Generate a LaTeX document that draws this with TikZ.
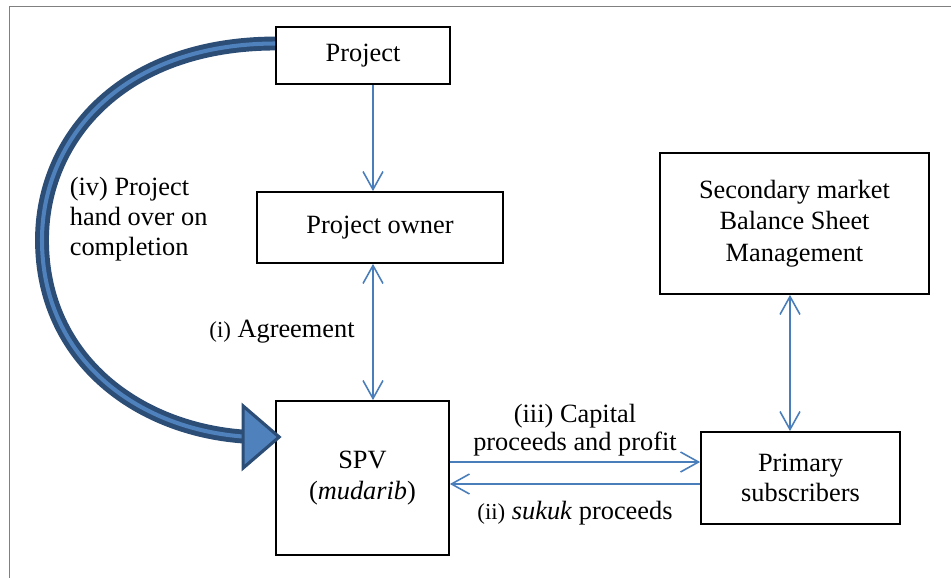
\documentclass[tikz,border=0pt]{standalone}
\usepackage{fontspec}
\setmainfont{Liberation Serif}
\usetikzlibrary{positioning, arrows.meta, calc}
\definecolor{linkblue}{HTML}{4A7EBB}
\definecolor{arrowdark}{HTML}{2C4D75}
\definecolor{arrowfill}{HTML}{4F81BD}

\begin{document}
\begin{tikzpicture}[x=0.02cm, y=-0.02cm, >={Straight Barb[length=3.6mm,width=4mm]},
    box/.style={draw, line width=1pt, fill=white, align=center, inner sep=0pt, font=\fontsize{15}{17.5}\selectfont},
    link/.style={draw=linkblue, line width=0.9pt},
    lbl/.style={align=center, inner sep=2pt, font=\fontsize{15}{16}\selectfont},
    bigarrow/.style={draw=arrowdark, line width=2.8pt, double=arrowfill, double distance=2.3pt}]
    \useasboundingbox (0,0) rectangle (951,578);
    % outer frame
    \draw[gray, line width=1.1pt] (9.5,578) -- (9.5,6.5) -- (951,6.5);

    % boxes
    \node[box, minimum width=3.48cm, minimum height=1.14cm] (project) at (363,55.5) {Project};
    \node[box, minimum width=4.92cm, minimum height=1.42cm] (owner) at (380,227.5) {Project owner};
    \node[box, minimum width=3.46cm, minimum height=3.08cm] (spv) at (362.5,478) {SPV\\(\textit{mudarib})};
    \node[box, minimum width=5.38cm, minimum height=2.82cm, font=\fontsize{15}{18}\selectfont] (secondary) at (794.5,223.5) {Secondary market\\Balance Sheet\\Management};
    \node[box, minimum width=3.98cm, minimum height=1.84cm] (primary) at (800.5,478) {Primary\\subscribers};

    % lines the connectors run along
    \coordinate (midline) at (373,0);
    \coordinate (rightline) at (790,0);
    \coordinate (upper) at (0,462);
    \coordinate (lower) at (0,484);

    \draw[link,->] (project.south -| midline) -- (owner.north -| midline);
    \draw[link,<->] (owner.south -| midline) -- node[lbl, left=8pt] (agree) {{\fontsize{13}{15}\selectfont(i)} Agreement} (spv.north -| midline);
    \draw[link,<->] (secondary.south -| rightline) -- (primary.north -| rightline);
    \draw[link,->] (spv.east |- upper) -- node[lbl, above=1pt] (capital) {(iii) Capital\\proceeds and profit} (primary.west |- upper);
    \draw[link,->] (primary.west |- lower) -- node[lbl, below=7.5pt] (sukuk) {{\fontsize{13}{15}\selectfont(ii)} \textit{sukuk} proceeds} (spv.east |- lower);

    % big hand-over arrow
    \coordinate (headtip) at ($(spv.west)+(4,-41)$);
    \draw[bigarrow] ($(project.west)+(0,-12)$) .. controls (120,44) and (42,140) .. (42,240)
        .. controls (42,360) and (140,432) .. ($(headtip)+(-28,0)$);
    \filldraw[fill=arrowfill, draw=arrowdark, line width=1.8pt, line join=miter] (headtip) -- ++(-36,-31) -- ++(0,62) -- cycle;
    \node[lbl, align=left, anchor=west, font=\fontsize{15}{17}\selectfont] (handover) at (66,219) {(iv) Project\\hand over on\\completion};
\end{tikzpicture}
\end{document}
